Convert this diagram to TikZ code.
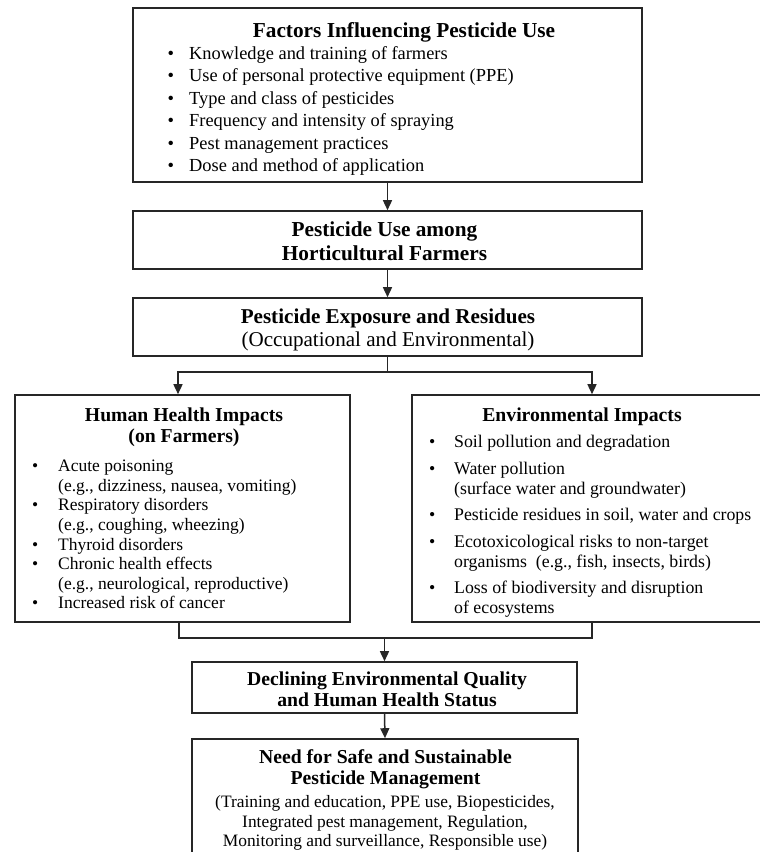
\documentclass[tikz,border=0pt]{standalone}
\usepackage{fontspec}
\setmainfont{Liberation Serif}
\usetikzlibrary{arrows.meta}
\newcommand\fsz[2]{\fontsize{#1}{#2}\selectfont}
\newcommand\bt[1]{\makebox[#1][l]{\textbullet}}
\begin{document}
\begin{tikzpicture}[x=1pt,y=-1pt,
  box/.style={draw=black!85, line width=1.6pt, inner sep=0pt},
  lbl/.style={inner sep=0pt, align=center},
  lst/.style={inner sep=0pt, align=left, anchor=west},
  ln/.style={line width=1.5pt, draw=black!85, line cap=rect},
  arr/.style={line width=1.5pt, draw=black!85, -{Triangle[length=10pt,width=9pt]}}]
\useasboundingbox (0,0) rectangle (760,852);
\fill[white] (0,0) rectangle (760,852);
% boxes
\node[box, minimum width=509pt, minimum height=174pt] (b1) at (387.5,95) {};
\node[box, minimum width=509pt, minimum height=58pt] (b2) at (387.5,240) {};
\node[box, minimum width=509pt, minimum height=58pt] (b3) at (387.5,327) {};
\node[box, minimum width=335pt, minimum height=227pt] (hh) at (182.5,508.5) {};
\node[box, minimum width=349pt, minimum height=227pt] (env) at (586.5,508.5) {};
\node[box, minimum width=385pt, minimum height=51pt] (dec) at (384.5,687.5) {};
\node[box, minimum width=386pt, minimum height=117pt] (need) at (385,797.5) {};
% texts
\node[lbl, font=\fsz{21.3}{24}\bfseries] (t1) at (404,32) {Factors Influencing Pesticide Use};
\node[lst, font=\fsz{18.4}{22.5}] (l1) at (167.5,111) {%
\bt{21.5pt}Knowledge and training of farmers\\
\bt{21.5pt}Use of personal protective equipment (PPE)\\
\bt{21.5pt}Type and class of pesticides\\
\bt{21.5pt}Frequency and intensity of spraying\\
\bt{21.5pt}Pest management practices\\
\bt{21.5pt}Dose and method of application};
\node[lbl, font=\fsz{21.3}{24}\bfseries] (t2) at (384.5,241.5) {Pesticide Use among\\Horticultural Farmers};
\node[lbl, font=\fsz{21.1}{23}] (t3) at (388,329.5) {\textbf{Pesticide Exposure and Residues}\\(Occupational and Environmental)};
\node[lbl, font=\fsz{19.7}{21}\bfseries] (th) at (184,427.5) {Human Health Impacts\\(on Farmers)};
\node[lst, font=\fsz{17.5}{19.6}] (lh) at (32,534.5) {%
\bt{26pt}Acute poisoning\\
\hspace*{26pt}(e.g., dizziness, nausea, vomiting)\\
\bt{26pt}Respiratory disorders\\
\hspace*{26pt}(e.g., coughing, wheezing)\\
\bt{26pt}Thyroid disorders\\
\bt{26pt}Chronic health effects\\
\hspace*{26pt}(e.g., neurological, reproductive)\\
\bt{26pt}Increased risk of cancer};
\node[lbl, font=\fsz{19.7}{21}\bfseries] (te) at (582,417) {Environmental Impacts};
\node[lst, font=\fsz{17.8}{20}] (le) at (429,526.5) {%
\bt{25pt}Soil pollution and degradation\\[6.5pt]
\bt{25pt}Water pollution\\
\hspace*{25pt}(surface water and groundwater)\\[6.5pt]
\bt{25pt}Pesticide residues in soil, water and crops\\[6.5pt]
\bt{25pt}Ecotoxicological risks to non-target\\
\hspace*{25pt}organisms~ (e.g., fish, insects, birds)\\[6.5pt]
\bt{25pt}Loss of biodiversity and disruption\\
\hspace*{25pt}of ecosystems};
\node[lbl, font=\fsz{19.7}{21}\bfseries] (td) at (387,689.5) {Declining Environmental Quality\\and Human Health Status};
\node[lbl, font=\fsz{19.7}{21}\bfseries] (tn1) at (385.5,769) {Need for Safe and Sustainable\\Pesticide Management};
\node[lbl, font=\fsz{17.4}{19.5}] (tn2) at (385,823) {(Training and education, PPE use, Biopesticides,\\
Integrated pest management, Regulation,\\
Monitoring and surveillance, Responsible use)};
% connectors
\coordinate (sl) at (178,372);
\coordinate (sr) at (592,372);
\coordinate (ml) at (179,638);
\coordinate (mr) at (592,638);
\draw[arr] (b1.south) -- (b2.north);
\draw[arr] (b2.south) -- (b3.north);
\draw[ln] (b3.south) -- (b3.south |- sl);
\draw[ln] (sl) -- (sr);
\draw[arr] (sl) -- (sl |- hh.north);
\draw[arr] (sr) -- (sr |- env.north);
\draw[ln] (ml |- hh.south) -- (ml) -- (mr) -- (mr |- env.south);
\draw[arr] (dec.north |- ml) -- (dec.north);
\draw[arr] (dec.south) -- (need.north);
\end{tikzpicture}
\end{document}
